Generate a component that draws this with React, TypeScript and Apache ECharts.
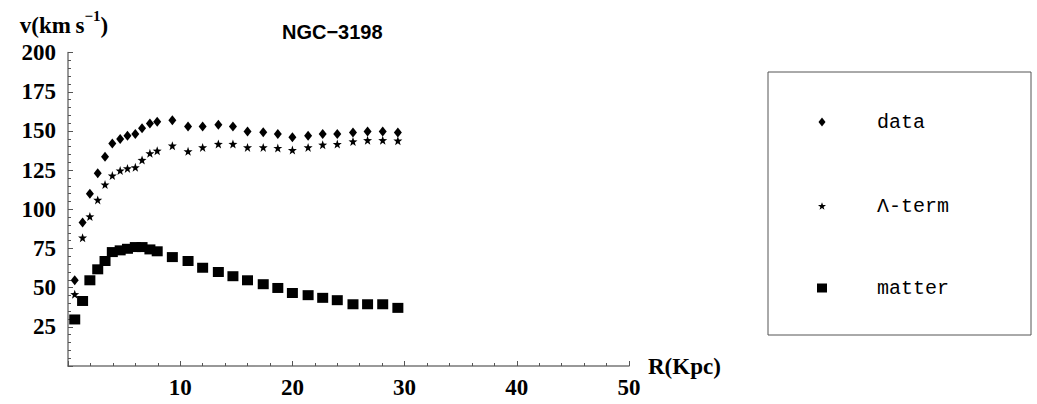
import React, { useEffect, useRef } from "react";
import * as echarts from "echarts";

// Radius (Kpc) of each measurement
const radius = [0.6, 1.3, 1.95, 2.65, 3.3, 3.95, 4.65, 5.3, 6.0, 6.6, 7.3, 7.95, 9.3, 10.7, 12.0, 13.4, 14.7, 16.0, 17.4, 18.7, 20.0, 21.4, 22.7, 24.0, 25.4, 26.7, 28.05, 29.4];
// Observed rotation velocity (km/s)
const dataV = [54.7, 91.6, 109.9, 123, 133.6, 142, 144.8, 147, 148, 151.8, 154.8, 155.9, 156.9, 152.9, 152.9, 154, 152.9, 149.7, 149.1, 148, 145.9, 147, 148, 148, 149, 149.7, 149.7, 149];
// Lambda-term model
const lambdaV = [45.8, 81.9, 95.4, 106, 115.8, 121.5, 124.7, 126.1, 126.8, 131.5, 135.7, 137.4, 140.6, 137, 139.5, 141.7, 141.7, 139.5, 139.5, 139.1, 137.8, 139.5, 141.2, 141.6, 143.3, 144.1, 144.1, 143.8];
// Matter-only model
const matterV = [29.7, 41.5, 54.7, 61.7, 67, 72.7, 73.8, 74.8, 75.9, 75.9, 74.4, 73.2, 69.5, 67, 62.7, 60, 57.3, 54.7, 52.2, 49.8, 46.6, 45.2, 43.5, 42, 39.4, 39.4, 39.4, 37.1];

const seriesNames = ["data", "Λ-term", "matter"];
const titleText = "NGC−3198";
const xName = "R(Kpc)";

const STAR = "path://M0,-10 L2.35,-3.24 L9.51,-3.09 L3.8,1.24 L5.88,8.09 L0,4 L-5.88,8.09 L-3.8,1.24 L-9.51,-3.09 L-2.35,-3.24 Z";

const serif = "'Liberation Serif', 'Times New Roman', serif";
const mono = "'Liberation Mono', 'Courier New', monospace";

export default function App() {
  const ref = useRef<HTMLDivElement>(null);
  useEffect(() => {
    document.body.style.margin = "0";
    document.body.style.overflow = "hidden";
    const chart = echarts.init(ref.current!, null, { renderer: "svg" });
    const pts = (vals: number[]) => radius.map((r, i) => [r, vals[i]]);
    const legendText = {
      fontFamily: mono,
      fontSize: 20,
      lineHeight: 20,
      color: "#000",
    };
    const iconCx = 822;
    const textX = 877;
    const mkLegend = (name: string, icon: string, w: number, h: number, cy: number) => ({
      data: [{ name, icon }],
      left: iconCx - w / 2,
      top: cy - 10,
      padding: 0,
      itemWidth: w,
      itemHeight: h,
      selectedMode: false,
      itemStyle: { opacity: 1, color: "#000" },
      textStyle: { ...legendText, padding: [0, 0, 0, textX - (iconCx - w / 2) - w - 5] },
    });
    const labelStyle = { fontFamily: serif, fontSize: 23, fontWeight: "bold", color: "#000" };
    chart.setOption({
      animation: false,
      title: {
        text: titleText,
        left: 282,
        top: 22,
        padding: 0,
        textStyle: { fontFamily: "'Liberation Sans', Arial, sans-serif", fontSize: 20, fontWeight: "bold", color: "#000" },
      },
      grid: { left: 68, right: 408, top: 52.6, bottom: 38 },
      legend: [
        mkLegend(seriesNames[0], "diamond", 7, 9, 122),
        mkLegend(seriesNames[1], STAR, 8, 8, 206),
        mkLegend(seriesNames[2], "rect", 10, 9, 288),
      ],
      graphic: [
        {
          type: "rect",
          shape: { x: 768, y: 72, width: 263, height: 263 },
          style: { fill: "none", stroke: "#555", lineWidth: 1 },
          silent: true,
        },
      ],
      xAxis: {
        type: "value",
        min: 0,
        max: 50,
        interval: 10,
        name: xName,
        nameLocation: "end",
        nameGap: 19,
        nameTextStyle: { fontFamily: serif, fontSize: 23, fontWeight: "bold", color: "#000", padding: [0, 0, 4, 0] },
        axisLine: { show: true, onZero: false, lineStyle: { color: "#777", width: 1.5 } },
        axisTick: { show: true, inside: true, length: 5, lineStyle: { color: "#555", width: 1 } },
        minorTick: { show: true, splitNumber: 5, length: 3, lineStyle: { color: "#555", width: 1 } },
        splitLine: { show: false },
        axisLabel: { showMinLabel: false, margin: 10, ...labelStyle },
      },
      yAxis: {
        type: "value",
        min: 0,
        max: 200,
        interval: 25,
        name: "{a|v(km\u2009s}{b|−1}{a|)}",
        nameLocation: "end",
        nameGap: 16,
        nameTextStyle: {
          padding: [0, 8, 0, 0],
          rich: {
            a: { fontFamily: serif, fontSize: 23, fontWeight: "bold", color: "#000", lineHeight: 28, verticalAlign: "bottom" },
            b: { fontFamily: serif, fontSize: 15, fontWeight: "bold", color: "#000", lineHeight: 15, verticalAlign: "top" },
          },
        },
        axisLine: { show: true, onZero: false, lineStyle: { color: "#777", width: 1.5 } },
        axisTick: { show: true, inside: true, length: 5, lineStyle: { color: "#555", width: 1 } },
        minorTick: { show: true, splitNumber: 5, length: 3, lineStyle: { color: "#555", width: 1 } },
        splitLine: { show: false },
        axisLabel: { showMinLabel: false, margin: 12, ...labelStyle },
      },
      series: [
        {
          name: seriesNames[0],
          type: "scatter",
          symbol: "diamond",
          symbolSize: [8, 10],
          itemStyle: { color: "#000", opacity: 1 },
          data: pts(dataV),
        },
        {
          name: seriesNames[1],
          type: "scatter",
          symbol: STAR,
          symbolSize: [9, 9],
          itemStyle: { color: "#000", opacity: 1 },
          data: pts(lambdaV),
        },
        {
          name: seriesNames[2],
          type: "scatter",
          symbol: "rect",
          symbolSize: [11, 10],
          itemStyle: { color: "#000", opacity: 1 },
          data: pts(matterV),
        },
      ],
    });
    return () => chart.dispose();
  }, []);
  return <div ref={ref} style={{ width: 1037, height: 404 }} />;
}
